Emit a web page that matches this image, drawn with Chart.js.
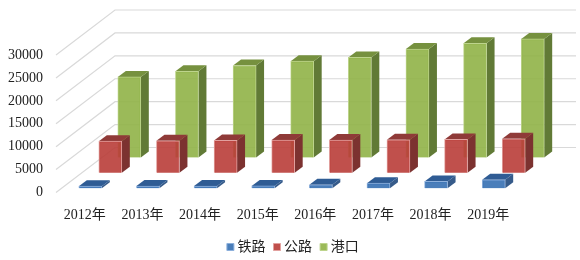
<!DOCTYPE html>
<html>
<head>
<meta charset="utf-8">
<style>
  html, body { margin: 0; padding: 0; background: #fff; }
  #wrap { width: 580px; height: 260px; }
</style>
<script src="https://cdn.jsdelivr.net/npm/chart.js@4"></script>
</head>
<body>
<div id="wrap"><canvas id="chart"></canvas></div>
<script>
// ### DATA ###
const years = ['2012年', '2013年', '2014年', '2015年', '2016年', '2017年', '2018年', '2019年'];
const railway = [450, 460, 470, 500, 750, 1100, 1480, 1850];
const road = [6900, 6970, 7060, 7130, 7130, 7190, 7280, 7410];
const port = [17580, 18820, 20070, 21020, 21840, 23670, 24930, 25880];

// ### 3D LOOK ###
const FONT = "'Liberation Serif', 'Noto Sans CJK SC', serif";
const WALL_DX = 59, WALL_DY = 45;   // floor depth, front edge to back wall
const BAR_DX = 8, BAR_DY = 6;       // depth of one bar
const rows = [
    { dx: 5.5, dy: -4.3, side: '#365b8a', top: '#2f5c94' },
    { dx: 25.5, dy: -19.7, side: '#7c3230', top: '#8f3a38' },
    { dx: 44.5, dy: -35, side: '#617a36', top: '#76913f' }
];

function face(ctx, color, points) {
    ctx.fillStyle = color;
    ctx.beginPath();
    points.forEach((p, i) => i ? ctx.lineTo(p[0], p[1]) : ctx.moveTo(p[0], p[1]));
    ctx.closePath();
    ctx.fill();
}

const depthPlugin = {
    id: 'depth',
    // Move the legend to sit under the labels
    afterLayout(chart) {
        const legend = chart.legend;
        legend.top += 4;
        legend.bottom += 4;
        legend.left += 36;
        legend.right += 36;
    },
    // Back wall and side wall gridlines, taken from the y scale ticks
    beforeDatasetsDraw(chart) {
        const { ctx, chartArea, scales } = chart;
        ctx.save();
        ctx.strokeStyle = '#d9d9d9';
        ctx.lineWidth = 1.2;
        scales.y.ticks.forEach(tick => {
            const y = scales.y.getPixelForValue(tick.value);
            ctx.beginPath();
            ctx.moveTo(chartArea.left, y);
            ctx.lineTo(chartArea.left + WALL_DX, y - WALL_DY);
            ctx.lineTo(chartArea.right + WALL_DX, y - WALL_DY);
            ctx.stroke();
        });
        ctx.restore();
    },
    // Shift each series to its own row, with side and top faces behind the bar
    beforeDatasetDraw(chart, args) {
        const { ctx } = chart;
        const row = rows[args.index];
        ctx.save();
        ctx.translate(row.dx, row.dy);
        args.meta.data.forEach(bar => {
            const { x, y, base, width } = bar.getProps(['x', 'y', 'base', 'width'], true);
            const l = x - width / 2, r = x + width / 2;
            face(ctx, row.side, [[r, y], [r + BAR_DX, y - BAR_DY], [r + BAR_DX, base - BAR_DY], [r, base]]);
            face(ctx, row.top, [[l, y], [l + BAR_DX, y - BAR_DY], [r + BAR_DX, y - BAR_DY], [r, y]]);
        });
    },
    afterDatasetDraw(chart) {
        chart.ctx.restore();
    }
};

// ### CHART ###
new Chart(document.getElementById('chart'), {
    type: 'bar',
    data: {
        labels: years,
        datasets: [
            // Slightly see-through fronts so the gridlines show faintly
            { label: '铁路', data: railway, backgroundColor: 'rgba(54,112,179,0.9)', borderColor: '#8db0dc' },
            { label: '公路', data: road, backgroundColor: 'rgba(185,61,57,0.9)', borderColor: '#e2a09e' },
            { label: '港口', data: port, backgroundColor: 'rgba(144,179,71,0.9)', borderColor: '#bdd48c' }
        ].map(d => ({ ...d, borderWidth: 1, barThickness: 23, grouped: false, clip: false }))
    },
    options: {
        responsive: true,
        maintainAspectRatio: false,
        animation: false,
        layout: { padding: { top: 55, right: 63, bottom: 0 } },
        plugins: {
            tooltip: { enabled: false },
            legend: {
                position: 'bottom',
                labels: {
                    usePointStyle: true,
                    pointStyle: 'rect',
                    boxWidth: 0.1,
                    boxHeight: 7,
                    padding: 11.5,
                    color: '#222',
                    font: { family: FONT, size: 14 }
                }
            }
        },
        scales: {
            x: {
                grid: { display: false, drawTicks: false },
                border: { display: false },
                ticks: { color: '#222', padding: 14, maxRotation: 0, font: { family: FONT, size: 14 } },
                afterFit: s => { s.height = 32; }
            },
            y: {
                min: 0,
                max: 30000,
                grid: { display: false, drawTicks: false },
                border: { display: false },
                ticks: {
                    stepSize: 5000,
                    color: '#222',
                    padding: 13,
                    font: { family: FONT, size: 14 },
                    callback: v => String(v)
                },
                afterFit: s => { s.width = 56; }
            }
        }
    },
    plugins: [depthPlugin]
});
</script>
</body>
</html>
